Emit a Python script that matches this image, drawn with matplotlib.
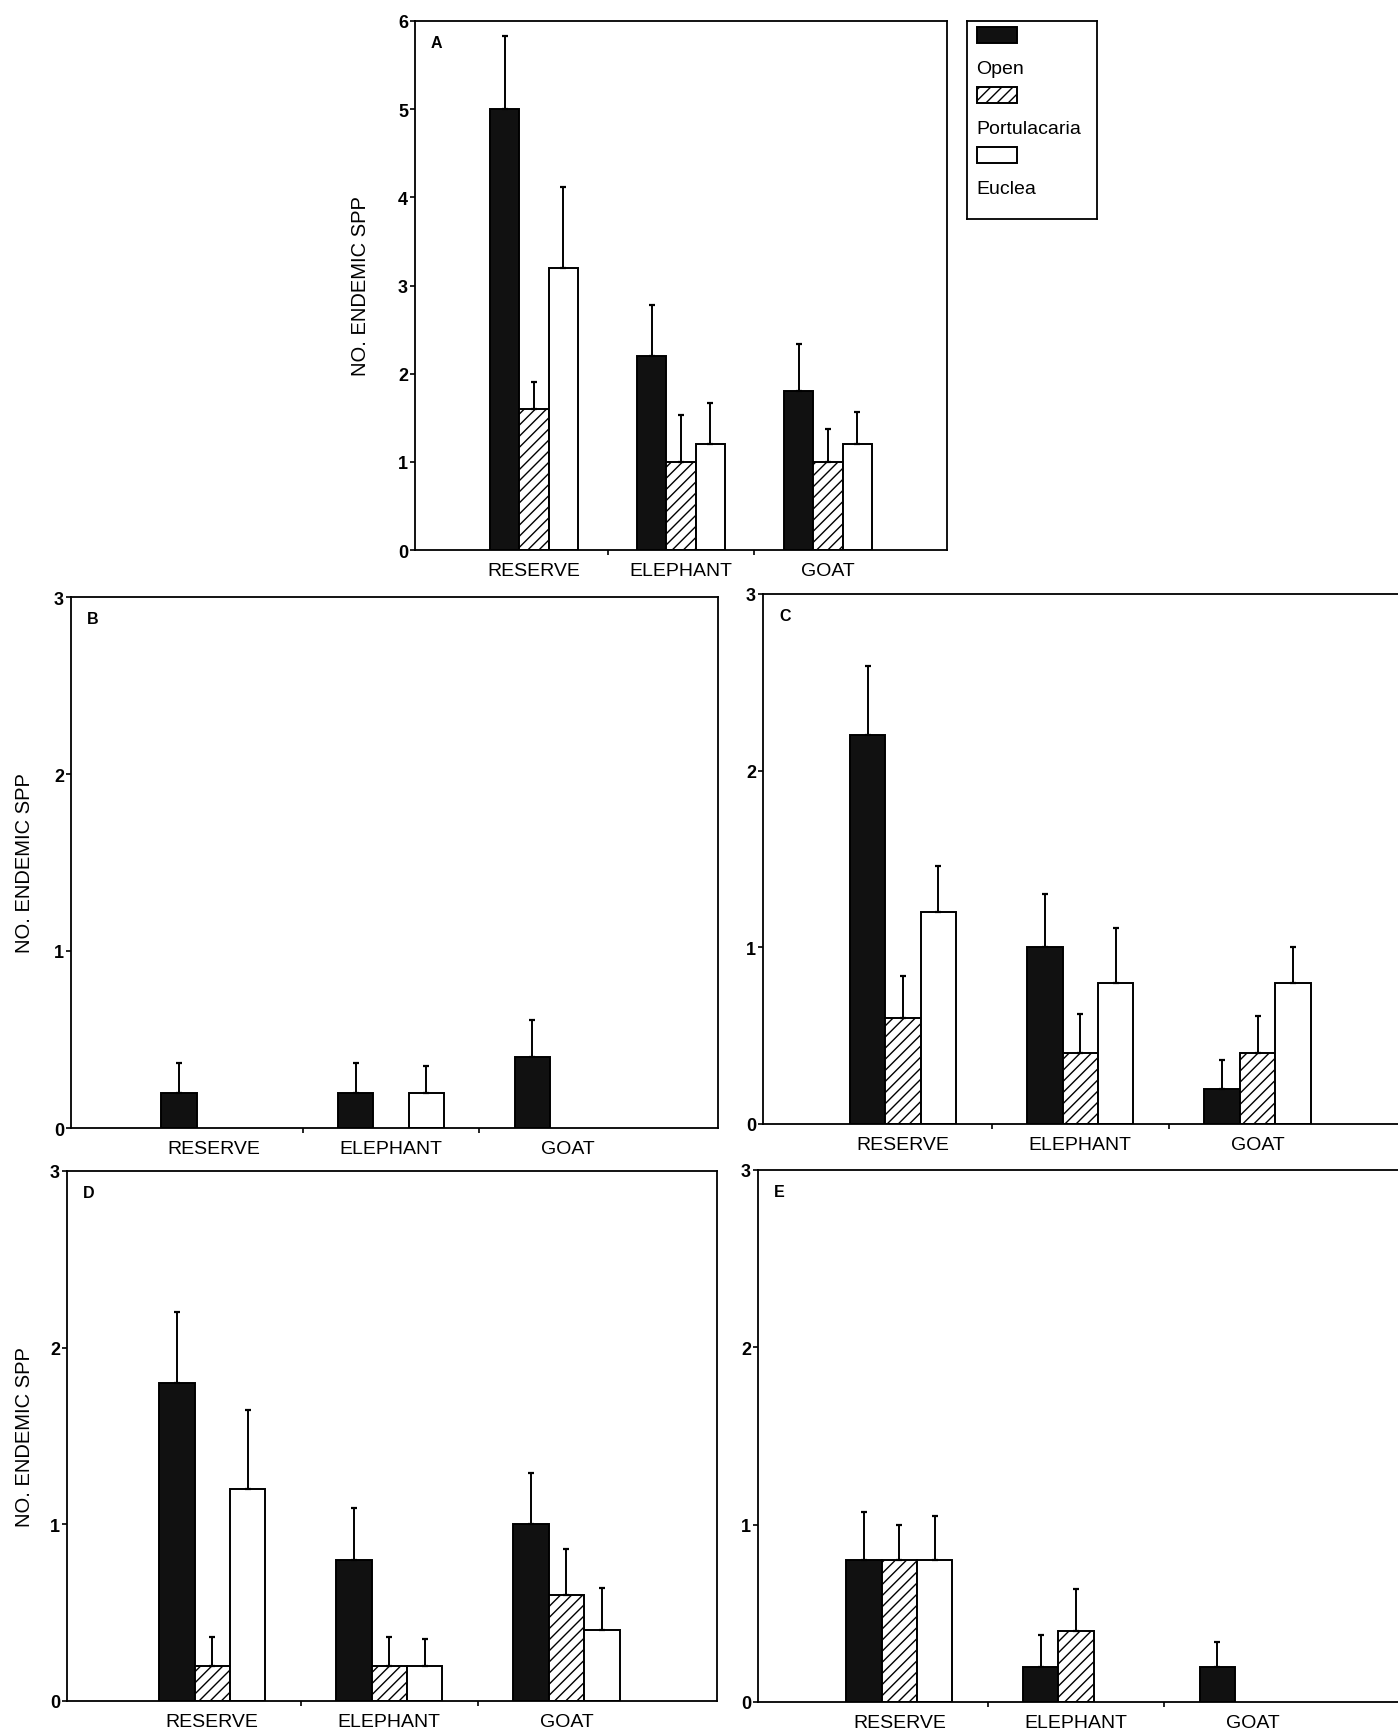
import matplotlib
matplotlib.use('Agg')
import matplotlib.pyplot as plt
from matplotlib.patches import Rectangle
import numpy as np

plt.rcParams['font.family'] = ['Liberation Sans', 'DejaVu Sans']
plt.rcParams['hatch.linewidth'] = 1.0
plt.rcParams['hatch.color'] = '#222222'

# ---------------- data ----------------
sites = ['RESERVE', 'ELEPHANT', 'GOAT']
series_names = ['Open', 'Portulacaria', 'Euclea']
ylabel_text = 'NO. ENDEMIC SPP'

a_open = [5.0, 2.2, 1.8]
a_open_se = [0.83, 0.58, 0.54]
a_port = [1.6, 1.0, 1.0]
a_port_se = [0.30, 0.53, 0.37]
a_eucl = [3.2, 1.2, 1.2]
a_eucl_se = [0.92, 0.47, 0.37]

b_open = [0.2, 0.2, 0.4]
b_open_se = [0.17, 0.17, 0.21]
b_port = [0.0, 0.0, 0.0]
b_port_se = [0.0, 0.0, 0.0]
b_eucl = [0.0, 0.2, 0.0]
b_eucl_se = [0.0, 0.15, 0.0]

c_open = [2.2, 1.0, 0.2]
c_open_se = [0.39, 0.30, 0.16]
c_port = [0.6, 0.4, 0.4]
c_port_se = [0.24, 0.22, 0.21]
c_eucl = [1.2, 0.8, 0.8]
c_eucl_se = [0.26, 0.31, 0.20]

d_open = [1.8, 0.8, 1.0]
d_open_se = [0.40, 0.29, 0.29]
d_port = [0.2, 0.2, 0.6]
d_port_se = [0.16, 0.16, 0.26]
d_eucl = [1.2, 0.2, 0.4]
d_eucl_se = [0.45, 0.15, 0.24]

e_open = [0.8, 0.2, 0.2]
e_open_se = [0.27, 0.18, 0.14]
e_port = [0.8, 0.4, 0.0]
e_port_se = [0.20, 0.24, 0.0]
e_eucl = [0.8, 0.0, 0.0]
e_eucl_se = [0.25, 0.0, 0.0]

# ---------------- layout ----------------
W, H = 1398, 1731
fig = plt.figure(figsize=(W / 100, H / 100), dpi=100)
fig.patch.set_facecolor('white')


def px_axes(left, top, right, bottom):
    return fig.add_axes([left / W, 1 - bottom / H, (right - left) / W, (bottom - top) / H])


styles = [
    dict(color='#111111', edgecolor='black', hatch=None),
    dict(color='white', edgecolor='black', hatch='///'),
    dict(color='white', edgecolor='black', hatch=None),
]

panels = [
    dict(letter='A', rect=(415, 22, 947, 551), ymax=6, xlim=(-0.81, 2.81),
         vals=(a_open, a_port, a_eucl), errs=(a_open_se, a_port_se, a_eucl_se),
         ylabel=True, lab_x=-0.085),
    dict(letter='B', rect=(71, 598, 718, 1129), ymax=3, xlim=(-0.81, 2.85),
         vals=(b_open, b_port, b_eucl), errs=(b_open_se, b_port_se, b_eucl_se),
         ylabel=True, lab_x=-0.057),
    dict(letter='C', rect=(763, 595, 1410, 1125), ymax=3, xlim=(-0.79, 2.86),
         vals=(c_open, c_port, c_eucl), errs=(c_open_se, c_port_se, c_eucl_se),
         ylabel=False, lab_x=None),
    dict(letter='D', rect=(67, 1172, 717, 1702), ymax=3, xlim=(-0.82, 2.85),
         vals=(d_open, d_port, d_eucl), errs=(d_open_se, d_port_se, d_eucl_se),
         ylabel=True, lab_x=-0.051),
    dict(letter='E', rect=(758, 1171, 1410, 1703), ymax=3, xlim=(-0.80, 2.89),
         vals=(e_open, e_port, e_eucl), errs=(e_open_se, e_port_se, e_eucl_se),
         ylabel=False, lab_x=None),
]

bw = 0.2
x = np.arange(len(sites))

for p in panels:
    ax = px_axes(*p['rect'])
    for k in range(3):
        xs = x + (k - 1) * bw
        vals = np.array(p['vals'][k], dtype=float)
        errs = np.array(p['errs'][k], dtype=float)
        st = styles[k]
        mask = vals > 0
        ax.bar(xs[mask], vals[mask], width=bw, color=st['color'], edgecolor=st['edgecolor'],
               hatch=st['hatch'], linewidth=1.4, zorder=2)
        m2 = mask & (errs > 0)
        if m2.any():
            ax.errorbar(xs[m2], vals[m2], yerr=[np.zeros(m2.sum()), errs[m2]], fmt='none',
                        ecolor='black', elinewidth=1.4, capsize=2.5, capthick=1.6, zorder=3)
    ax.set_xlim(*p['xlim'])
    ax.set_ylim(0, p['ymax'])
    ax.set_yticks(range(0, p['ymax'] + 1))
    ax.set_yticklabels([str(v) for v in range(0, p['ymax'] + 1)], fontsize=13, fontweight='bold')
    ax.set_xticks(x)
    ax.set_xticklabels(sites, fontsize=14)
    ax.set_xticks([0.5, 1.5], minor=True)
    ax.tick_params(axis='x', which='major', length=0, pad=9)
    ax.tick_params(axis='x', which='minor', length=3.5, width=1.2, direction='out')
    ax.tick_params(axis='y', which='major', length=3.5, width=1.2, direction='out', pad=1.5)
    for s in ax.spines.values():
        s.set_linewidth(1.3)
    if p['ylabel']:
        ax.set_ylabel(ylabel_text, fontsize=14.5)
        ax.yaxis.set_label_coords(p['lab_x'], 0.5)
    ax.annotate(p['letter'], xy=(0, 1), xycoords='axes fraction', xytext=(16, -22),
                textcoords='offset pixels', fontsize=11.5, fontweight='bold',
                ha='left', va='center')

# ---------------- legend ----------------
lg = px_axes(967, 22, 1097, 220)
lg.set_xlim(0, 130)
lg.set_ylim(198, 0)
lg.set_xticks([])
lg.set_yticks([])
for s in lg.spines.values():
    s.set_linewidth(1.3)
patch_tops = [6, 66, 126]
label_ys = [48, 108, 168]
for k in range(3):
    st = styles[k]
    lg.add_patch(Rectangle((10, patch_tops[k]), 40, 16, facecolor=st['color'],
                           edgecolor='black', hatch=st['hatch'], linewidth=1.4))
    lg.text(9, label_ys[k], series_names[k], fontsize=14, ha='left', va='center')

fig.savefig('out.png', dpi=100, facecolor='white')
